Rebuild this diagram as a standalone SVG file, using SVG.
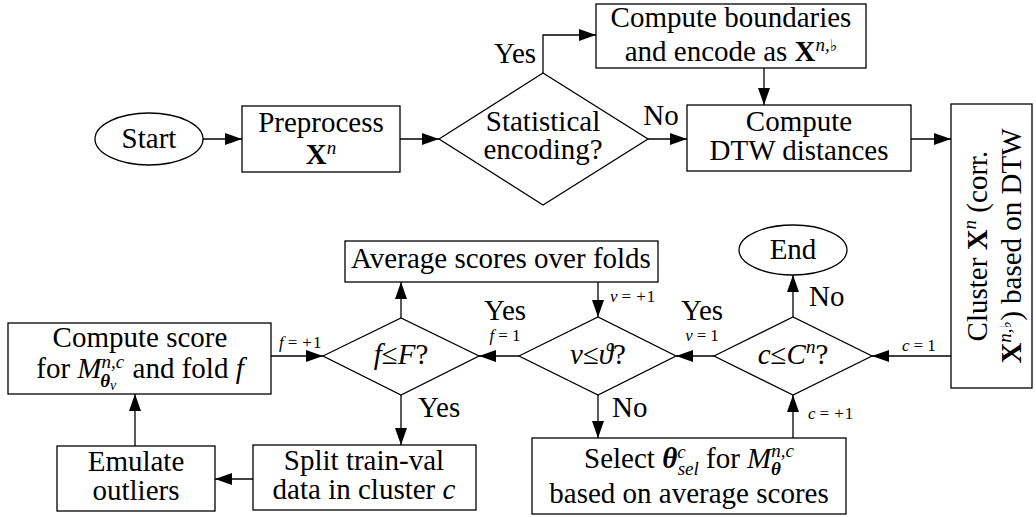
<svg xmlns="http://www.w3.org/2000/svg" width="1036" height="517" viewBox="0 0 1036 517">
<defs>
<marker id="ah" markerUnits="userSpaceOnUse" markerWidth="17" markerHeight="12" refX="17" refY="6" orient="auto"><path d="M0,0 L17,6 L0,12 Z" fill="#000"/></marker>
<style>
.n { fill:#fff; stroke:#000; stroke-width:1.3; }
.c { fill:none; stroke:#000; stroke-width:1.3; marker-end:url(#ah); }
text { font-family:"Liberation Serif","Times New Roman",serif; font-size:29px; fill:#000; }
.m { text-anchor:middle; }
.i { font-style:italic; }
.b { font-weight:bold; }
.bi { font-weight:bold; font-style:italic; }
.s { font-size:19px; }
.ss { font-size:14px; }
.lab { font-size:17px; }
.fl { font-family:"DejaVu Sans",sans-serif; font-size:16px; }
</style>
</defs>
<rect width="1036" height="517" fill="#fff"/>

<g id="connectors">
<path class="c" d="M203,139 H242"/>
<path class="c" d="M400,139 H439"/>
<path class="c" d="M543,73 V35 H596"/>
<path class="c" d="M648,139 H687"/>
<path class="c" d="M764,68 V105"/>
<path class="c" d="M911,139 H951"/>
<path class="c" d="M951,356 H872"/>
<path class="c" d="M793,317 V275"/>
<path class="c" d="M714,356 H676"/>
<path class="c" d="M598,282 V317"/>
<path class="c" d="M598,395 V438"/>
<path class="c" d="M793,438 V395"/>
<path class="c" d="M519,356 H479"/>
<path class="c" d="M401,318 V282"/>
<path class="c" d="M401,395 V445"/>
<path class="c" d="M253,479 H215"/>
<path class="c" d="M135,446 V394"/>
<path class="c" d="M271,356 H323"/>
<g id="connector-labels">
<text class="m" x="515" y="63">Yes</text>
<text class="m" x="661" y="125">No</text>
<text x="809" y="306">No</text>
<text class="lab" x="902" y="351"><tspan class="i">c</tspan><tspan dx="4">=</tspan><tspan dx="4">1</tspan></text>
<text class="m" x="702" y="320">Yes</text>
<text class="lab m" x="702" y="341"><tspan class="i">v</tspan><tspan dx="4">=</tspan><tspan dx="4">1</tspan></text>
<text class="lab" x="610" y="302"><tspan class="i">v</tspan><tspan dx="4">=</tspan><tspan dx="5">+</tspan><tspan dx="1">1</tspan></text>
<text x="612" y="417">No</text>
<text class="lab" x="808" y="419"><tspan class="i">c</tspan><tspan dx="4">=</tspan><tspan dx="5">+</tspan><tspan dx="1">1</tspan></text>
<text class="m" x="505" y="320">Yes</text>
<text class="lab m" x="505" y="341"><tspan class="i">f</tspan><tspan dx="4">=</tspan><tspan dx="4">1</tspan></text>
<text x="418" y="417">Yes</text>
<text class="lab" x="279" y="348"><tspan class="i">f</tspan><tspan dx="4">=</tspan><tspan dx="5">+</tspan><tspan dx="1">1</tspan></text>
</g>
</g>

<g id="start"><ellipse class="n" cx="149" cy="139" rx="54" ry="26"/><text class="m" x="149" y="148">Start</text></g>

<g id="preprocess"><rect class="n" x="242" y="106" width="158" height="66"/><text class="m" x="321" y="132">Preprocess</text><text class="m" x="321" y="164"><tspan class="b">X</tspan><tspan class="s i" dy="-10">n</tspan></text></g>

<g id="stat-enc"><polygon class="n" points="439,139 543,73 648,139 543,205"/><text class="m" x="543" y="131">Statistical</text><text class="m" x="543" y="159">encoding?</text></g>

<g id="boundaries"><rect class="n" x="596" y="4" width="270" height="64"/><text class="m" x="731" y="27">Compute boundaries</text><text class="m" x="731" y="61">and encode as <tspan class="b">X</tspan><tspan class="s i" dy="-10">n,</tspan><tspan class="fl">♭</tspan></text></g>

<g id="dtw"><rect class="n" x="687" y="105" width="224" height="66"/><text class="m" x="799" y="131">Compute</text><text class="m" x="799" y="160">DTW distances</text></g>

<g id="cluster"><rect class="n" x="951" y="104" width="81" height="284"/>
<text class="m" transform="rotate(-90 987 246)" x="987" y="246">Cluster <tspan class="b">X</tspan><tspan class="s i" dy="-11">n</tspan><tspan dy="11"> (corr.</tspan></text>
<text class="m" transform="rotate(-90 1021 246)" x="1021" y="246"><tspan class="b">X</tspan><tspan class="s i" dy="-10">n,</tspan><tspan class="fl">♭</tspan><tspan dy="10">) based on DTW</tspan></text>
</g>

<g id="end"><ellipse class="n" cx="793" cy="250" rx="54" ry="25"/><text class="m" x="793" y="259">End</text></g>

<g id="c-check"><polygon class="n" points="714,356 793,317 872,356 793,395"/><text class="m" x="793" y="364"><tspan class="i">c</tspan>≤<tspan class="i">C</tspan><tspan class="s i" dy="-11">n</tspan><tspan dy="11">?</tspan></text></g>

<g id="v-check"><polygon class="n" points="519,356 598,317 676,356 598,395"/><text class="m" x="598" y="364"><tspan class="i">v</tspan>≤<tspan class="i">ϑ</tspan>?</text></g>

<g id="f-check"><polygon class="n" points="323,356 401,318 479,356 401,395"/><text class="m" x="401" y="364"><tspan class="i">f</tspan>≤<tspan class="i">F</tspan>?</text></g>

<g id="avg"><rect class="n" x="345" y="241" width="313" height="41"/><text class="m" x="501" y="268">Average scores over folds</text></g>

<g id="select"><rect class="n" x="532" y="438" width="314" height="76"/>
<text class="m" x="689" y="468">Select <tspan class="bi">θ</tspan><tspan class="s i" dy="-10">c</tspan><tspan class="s i" dx="-8" dy="17">sel</tspan><tspan dy="-7"> for </tspan><tspan class="i">M</tspan><tspan class="s i" dy="-11">n,c</tspan><tspan class="s bi" dx="-23" dy="18">θ</tspan></text>
<text class="m" x="689" y="503">based on average scores</text></g>

<g id="score"><rect class="n" x="8" y="323" width="263" height="71"/>
<text class="m" x="140" y="347">Compute score</text>
<text class="m" x="140" y="378">for <tspan class="i">M</tspan><tspan class="s i" dy="-10">n,c</tspan><tspan class="s bi" dx="-24" dy="19">θ</tspan><tspan class="ss i" dy="3">v</tspan><tspan dx="9" dy="-12"> and fold </tspan><tspan class="i">f</tspan></text></g>

<g id="split"><rect class="n" x="253" y="445" width="223" height="65"/><text class="m" x="364" y="470">Split train-val</text><text class="m" x="364" y="499">data in cluster <tspan class="i">c</tspan></text></g>

<g id="emulate"><rect class="n" x="57" y="446" width="158" height="65"/><text class="m" x="136" y="471">Emulate</text><text class="m" x="136" y="500">outliers</text></g>
</svg>
